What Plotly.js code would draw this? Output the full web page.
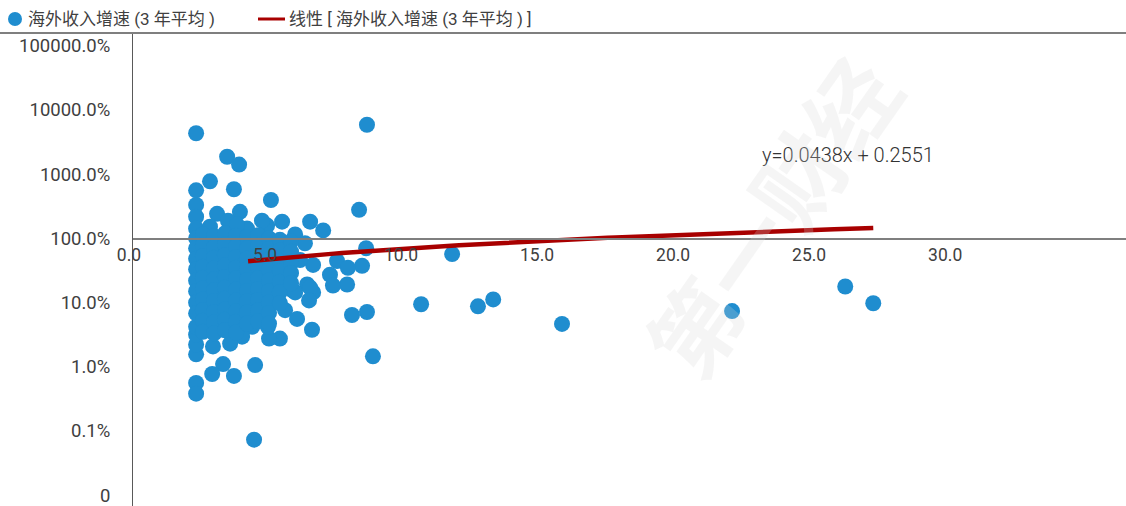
<!DOCTYPE html>
<html>
<head>
<meta charset="utf-8">
<script src="https://cdn.plot.ly/plotly-3.0.1.min.js"></script>
<style>
  html, body { margin: 0; padding: 0; background: #ffffff; }
  #chart { width: 1126px; height: 506px; }
</style>
</head>
<body>
<div id="chart"></div>
<script>
// Series names
const seriesName = '海外收入增速 (3 年平均 )';
const trendName = '线性 [ 海外收入增速 (3 年平均 ) ]';

// Scatter values: x = company metric, y = 3-year average overseas revenue growth (1 = 100%)
const xVals = [
  2.32, 3.46, 3.90, 2.83, 2.32, 3.71, 5.07, 8.31, 8.60, 2.32,
  2.32, 3.09, 3.93, 3.49, 4.19, 4.93, 5.48, 2.32, 6.51, 6.99,
  5.96, 6.32, 8.57, 8.42, 7.50, 7.90, 7.24, 7.87, 7.35, 6.62,
  6.14, 6.40, 5.88, 6.62, 5.66, 5.96, 6.51, 6.47, 5.59, 6.03,
  6.58, 8.05, 8.60, 8.82, 5.40, 5.00, 4.38, 4.96, 4.01, 3.57,
  2.94, 2.32, 2.32, 2.32, 2.32, 3.31, 2.91, 3.71, 4.49, 2.32,
  2.32, 4.45, 11.73, 10.59, 12.68, 13.24, 15.77, 22.02, 26.18, 27.21,
  2.83, 3.82, 4.74,
  2.32, 2.32, 2.32, 2.32, 2.32, 2.32, 2.32, 2.32,
  2.57, 2.57, 2.57, 2.57, 2.57, 2.57, 2.57, 2.57, 2.57, 2.57,
  2.98, 2.98, 2.98, 2.98, 2.98, 2.98, 2.98, 2.98, 2.98, 2.98,
  3.38, 3.38, 3.38, 3.38, 3.38, 3.38, 3.38, 3.38, 3.38, 3.38,
  3.79, 3.79, 3.79, 3.79, 3.79, 3.79, 3.79, 3.79, 3.79, 3.79,
  4.19, 4.19, 4.19, 4.19, 4.19, 4.19, 4.19, 4.19, 4.19,
  4.60, 4.60, 4.60, 4.60, 4.60, 4.60, 4.60, 4.60, 4.60,
  5.00, 5.00, 5.00, 5.00, 5.00, 5.00, 5.00, 5.00, 5.00,
  5.40, 5.40, 5.40, 5.40, 5.40, 5.40, 5.40,
  5.81, 5.81, 5.81, 5.81, 5.81
];
const yVals = [
  43.5, 18.7, 14.1, 7.73, 5.6, 5.83, 3.96, 2.78, 58.9, 3.32,
  2.17, 2.41, 2.59, 1.89, 1.42, 1.58, 1.82, 1.42, 1.82, 1.33,
  1.15, 0.84, 0.703, 0.373, 0.444, 0.347, 0.271, 0.191, 0.184, 0.386,
  0.460, 0.191, 0.154, 0.144, 0.191, 0.144, 0.171, 0.108, 0.0762, 0.0556,
  0.0377, 0.0640, 0.0712, 0.0145, 0.0275, 0.0275, 0.042, 0.042, 0.0294, 0.0229,
  0.0207, 0.0156, 0.0222, 0.0316, 0.0418, 0.0110, 0.0077, 0.0072, 0.0106, 0.0056,
  0.0038, 0.00073, 0.569, 0.0940, 0.0874, 0.112, 0.0464, 0.0736, 0.178, 0.0975,
  1.52, 1.64, 1.89,
  1.0, 0.70, 0.48, 0.33, 0.22, 0.15, 0.10, 0.068,
  1.15, 0.78, 0.53, 0.36, 0.244, 0.166, 0.112, 0.076, 0.052, 0.035,
  1.08, 0.72, 0.50, 0.34, 0.23, 0.155, 0.105, 0.071, 0.049, 0.033,
  1.2, 0.8, 0.55, 0.38, 0.25, 0.17, 0.115, 0.078, 0.054, 0.037,
  1.1, 0.75, 0.51, 0.35, 0.24, 0.16, 0.108, 0.073, 0.05, 0.034,
  1.05, 0.70, 0.48, 0.33, 0.225, 0.152, 0.104, 0.07, 0.047,
  1.12, 0.77, 0.52, 0.355, 0.24, 0.163, 0.11, 0.075, 0.051,
  1.0, 0.68, 0.47, 0.32, 0.22, 0.15, 0.10, 0.069, 0.047,
  0.95, 0.65, 0.45, 0.31, 0.21, 0.145, 0.098,
  0.9, 0.62, 0.42, 0.29, 0.2
];

// Linear trendline as stated on the chart: y = slope * x + intercept
const trendSlope = 0.0438;
const trendIntercept = 0.2551;
const trendStartX = 4.23;

// Axis ticks
const yTickVals = [0.0001, 0.001, 0.01, 0.1, 1, 10, 100, 1000];
const yTickText = ['0', '0.1%', '1.0%', '10.0%', '100.0%', '1000.0%', '10000.0%', '100000.0%'];
const xTickVals = [0, 5, 10, 15, 20, 25, 30];
const xTickText = ['0.0', '5.0', '10.0', '15.0', '20.0', '25.0', '30.0'];

// Trendline samples along the x span
const trendEndX = Math.max.apply(null, xVals);
const trendX = [];
const trendY = [];
const steps = 80;
for (let i = 0; i <= steps; i++) {
  const x = trendStartX + (trendEndX - trendStartX) * i / steps;
  trendX.push(x);
  trendY.push(trendSlope * x + trendIntercept);
}

const W = 1126, H = 506;
const margin = { l: 133, r: 0, t: 33, b: 0 };
const plotW = W - margin.l - margin.r;
const plotH = H - margin.t - margin.b;
const yRange = [-4.17, 3.2];
const xRange = [0, 36.5];
// x axis crosses the value axis at 100%
const xAxisPos = (0 - yRange[0]) / (yRange[1] - yRange[0]);

// pixel -> paper helpers for the legend row and labels
const px = (x) => (x - margin.l) / plotW;
const py = (y) => (H - margin.b - y) / plotH;

const fontFamily = 'Roboto, "Noto Sans CJK SC", sans-serif';
const textColor = '#404040';
const pointColor = '#1f8dcf';
const trendColor = '#a80000';

const traces = [
  {
    type: 'scatter',
    mode: 'markers',
    name: seriesName,
    x: xVals,
    y: yVals,
    marker: { color: pointColor, size: 16, line: { width: 0 } },
    hoverinfo: 'x+y'
  },
  {
    type: 'scatter',
    mode: 'lines',
    name: trendName,
    x: trendX,
    y: trendY,
    line: { color: trendColor, width: 4.5 },
    hoverinfo: 'skip'
  }
];

const legendY = 19;

const layout = {
  width: W,
  height: H,
  margin: margin,
  paper_bgcolor: '#ffffff',
  plot_bgcolor: '#ffffff',
  font: { family: fontFamily, size: 17, color: textColor },
  showlegend: false,
  xaxis: {
    range: xRange,
    anchor: 'free',
    position: xAxisPos,
    showgrid: false,
    zeroline: false,
    showline: true,
    linecolor: '#7f7f7f',
    linewidth: 1.5,
    ticks: '',
    tickvals: xTickVals,
    ticktext: xTickText,
    ticklabelshift: -4,
    tickfont: { family: fontFamily, size: 17.5, color: textColor }
  },
  yaxis: {
    type: 'log',
    range: yRange,
    showgrid: false,
    zeroline: false,
    showline: true,
    linecolor: '#595959',
    linewidth: 1,
    ticks: '',
    tickvals: yTickVals,
    ticktext: yTickText,
    ticklabelstandoff: 18,
    ticklabeloverflow: 'allow',
    tickfont: { family: fontFamily, size: 18.5, color: textColor }
  },
  shapes: [
    // rule under the legend row
    {
      type: 'line', xref: 'paper', yref: 'paper',
      x0: -margin.l / plotW, x1: 1, y0: 1, y1: 1,
      line: { color: '#7f7f7f', width: 2 }
    },
    // legend: series marker
    {
      type: 'circle', xref: 'paper', yref: 'paper',
      xsizemode: 'pixel', ysizemode: 'pixel',
      xanchor: px(15), yanchor: py(legendY),
      x0: -7, x1: 7, y0: -7, y1: 7,
      fillcolor: pointColor, line: { width: 0 }
    },
    // legend: trendline swatch
    {
      type: 'line', xref: 'paper', yref: 'paper',
      x0: px(258), x1: px(285), y0: py(legendY), y1: py(legendY),
      line: { color: trendColor, width: 3 }
    }
  ],
  annotations: [
    {
      xref: 'paper', yref: 'paper',
      x: px(26), y: py(legendY),
      xanchor: 'left', yanchor: 'middle',
      showarrow: false,
      text: seriesName,
      font: { family: fontFamily, size: 17, color: textColor }
    },
    {
      xref: 'paper', yref: 'paper',
      x: px(287), y: py(legendY),
      xanchor: 'left', yanchor: 'middle',
      showarrow: false,
      text: trendName,
      font: { family: fontFamily, size: 17, color: textColor }
    },
    {
      xref: 'paper', yref: 'paper',
      x: px(848), y: py(155),
      xanchor: 'center', yanchor: 'middle',
      showarrow: false,
      text: 'y=' + trendSlope + 'x + ' + trendIntercept,
      font: { family: fontFamily, size: 20, color: '#333333', weight: 300 }
    },
    {
      xref: 'paper', yref: 'paper',
      x: px(770), y: py(215),
      xanchor: 'center', yanchor: 'middle',
      showarrow: false,
      text: '第一财经',
      textangle: -55,
      font: { family: '"Noto Sans CJK SC", sans-serif', size: 90, color: 'rgba(215,215,215,0.24)', weight: 700 }
    }
  ]
};

Plotly.newPlot('chart', traces, layout, { displayModeBar: false, staticPlot: true });
</script>
</body>
</html>
